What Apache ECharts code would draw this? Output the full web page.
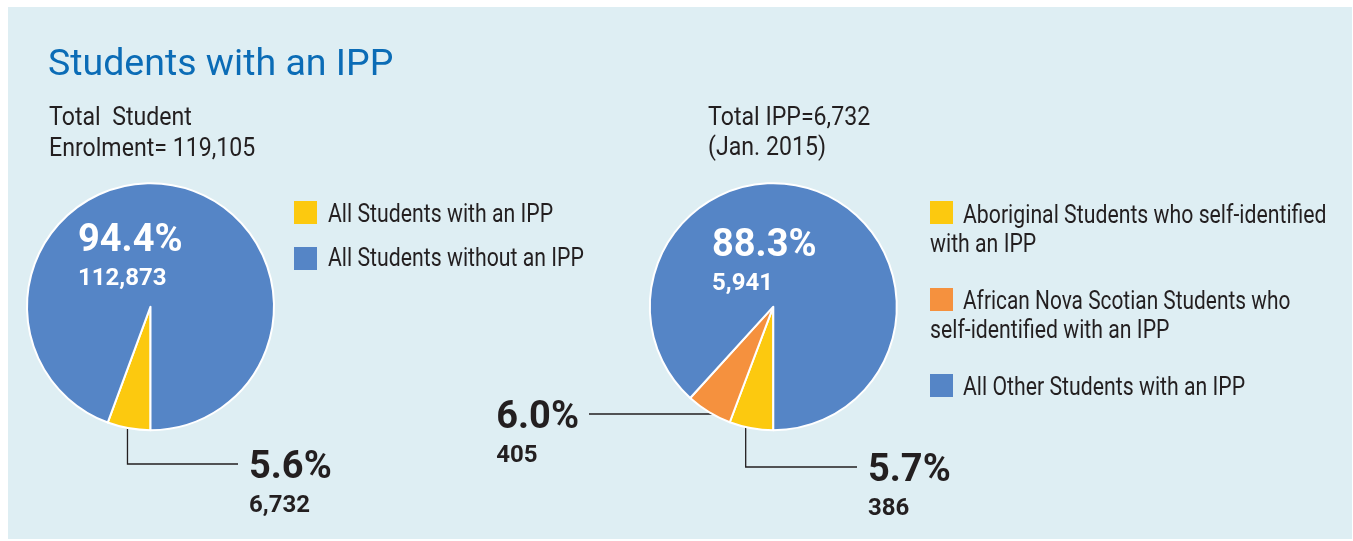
<!DOCTYPE html>
<html>
<head>
<meta charset="utf-8">
<script src="https://cdn.jsdelivr.net/npm/echarts@6/dist/echarts.min.js"></script>
<style>
  html, body { margin: 0; padding: 0; background: #fff; }
  #chart { width: 1353px; height: 541px; }
</style>
</head>
<body>
<div id="chart"></div>
<script>
// data
var leftNames = ['All Students with an IPP', 'All Students without an IPP'];
var leftValues = [6732, 112873];
var rightNames = [
    'Aboriginal Students who self-identified with an IPP',
    'African Nova Scotian Students who self-identified with an IPP',
    'All Other Students with an IPP'
];
var rightValues = [386, 405, 5941];
var totalEnrolment = 119105;   // as printed on the source
var ippDate = 'Jan. 2015';

// styles
var yellow = '#fcc90f', orange = '#f5913e', blue = '#5585c6';
var leftColors = [yellow, blue];
var rightColors = [yellow, orange, blue];
var ink = '#231f20';
var font = 'Roboto';
var squeeze = 0.85; // fake a condensed face

var chart = echarts.init(document.getElementById('chart'));

// label placement per pie (layout only, not data)
// da = small angle nudge (deg) for where the leader starts inside the slice
var leftPie = {
    center: [150.5, 306.7], r: 123.5,
    inner: { dx: -72.5, dy: -85 },
    leaders: { 0: { f: 0.88, da: 2.1, elbowY: 464, endX: 238, side: 'right' } }
};
var rightPie = {
    center: [773.3, 306.7], r: 123.5,
    inner: { dx: -61.3, dy: -80 },
    leaders: {
        0: { f: 0.91, da: 3.9, elbowY: 467, endX: 857, side: 'right' },
        1: { f: 0.76, da: 3.9, elbowY: 414, endX: 589, side: 'left' }
    }
};

function midAngle(values, i) {
    var total = values.reduce(function (a, b) { return a + b; }, 0);
    var before = 0;
    for (var k = 0; k < i; k++) before += values[k];
    return (before + values[i] / 2) / total * Math.PI * 2;
}

function makeLayout(cfg, values) {
    return function (params) {
        var i = params.dataIndex;
        var ld = cfg.leaders[i];
        if (!ld) {
            return {
                x: cfg.center[0] + cfg.inner.dx,
                y: cfg.center[1] + cfg.inner.dy,
                align: 'left', verticalAlign: 'top'
            };
        }
        var a = midAngle(values, i) + ld.da * Math.PI / 180;
        var sx = cfg.center[0] - ld.f * cfg.r * Math.sin(a);
        var sy = cfg.center[1] + ld.f * cfg.r * Math.cos(a);
        var lx = ld.side === 'right' ? ld.endX + 11 : ld.endX - 10 - params.labelRect.width;
        return {
            x: lx,
            y: ld.elbowY - 15.5,
            align: 'left', verticalAlign: 'top',
            labelLinePoints: [[sx, sy], [sx, ld.elbowY], [ld.endX, ld.elbowY]]
        };
    };
}

function pieSeries(names, values, colors, cfg) {
    var maxV = Math.max.apply(null, values);
    return {
        type: 'pie',
        center: cfg.center,
        radius: cfg.r,
        startAngle: -90,
        clockwise: true,
        percentPrecision: 1,
        avoidLabelOverlap: false,
        silent: true,
        animation: false,
        itemStyle: { borderColor: '#fff', borderWidth: 2 },
        label: {
            show: true,
            position: 'outside',
            alignTo: 'none',
            fontFamily: font,
            formatter: function (p) {
                var w = p.value === maxV ? 'w' : '';
                return '{p' + w + '|' + p.percent.toFixed(1) + '%}\n{v' + w + '|' + echarts.format.addCommas(p.value) + '}';
            },
            rich: {
                p: { fontSize: 38, fontWeight: 'bold', lineHeight: 40, color: ink, fontFamily: font },
                v: { fontSize: 24, fontWeight: 'bold', lineHeight: 34, color: ink, fontFamily: font },
                pw: { fontSize: 38, fontWeight: 'bold', lineHeight: 40, color: '#fff', fontFamily: font },
                vw: { fontSize: 24, fontWeight: 'bold', lineHeight: 34, color: '#fff', fontFamily: font }
            }
        },
        labelLine: {
            show: true,
            lineStyle: { color: ink, width: 1.3 }
        },
        labelLayout: makeLayout(cfg, values),
        data: values.map(function (v, i) {
            return {
                name: names[i],
                value: v,
                itemStyle: { color: colors[i] },
                labelLine: { show: !!cfg.leaders[i] }
            };
        })
    };
}

// text helpers for the graphic layer
function txt(s, x, midY, size, sx) {
    return {
        type: 'text', x: x, y: midY, scaleX: sx || squeeze, silent: true,
        style: {
            text: s, fill: ink,
            font: size + 'px ' + font,
            textAlign: 'left', textVerticalAlign: 'middle',
            align: 'left', verticalAlign: 'middle'
        }
    };
}
function square(x, y, color) {
    return { type: 'rect', silent: true, shape: { x: x, y: y, width: 23, height: 23 }, style: { fill: color } };
}

var ippTotal = rightValues.reduce(function (a, b) { return a + b; }, 0);

var graphics = [
    { type: 'rect', silent: true, z: -10, shape: { x: 8, y: 7, width: 1344, height: 532 }, style: { fill: '#deeef3' } },
    // headers
    txt('Total  Student', 49, 118.5, 26, 0.89),
    txt('Enrolment= ' + echarts.format.addCommas(totalEnrolment), 49, 149.5, 26, 0.89),
    txt('Total IPP=' + echarts.format.addCommas(ippTotal), 708, 118.5, 26, 0.89),
    txt('(' + ippDate + ')', 708, 148.5, 26, 0.89),
    // left legend
    square(294, 201, leftColors[0]), txt(leftNames[0], 328, 215.5, 25),
    square(294, 247, leftColors[1]), txt(leftNames[1], 328, 259.5, 25),
    // right legend
    square(930, 201, rightColors[0]),
    txt('Aboriginal Students who self-identified', 963, 216.5, 25, 0.85),
    txt('with an IPP', 930, 245.5, 25),
    square(930, 288, rightColors[1]),
    txt('African Nova Scotian Students who', 963, 302.5, 25, 0.835),
    txt('self-identified with an IPP', 930, 331.5, 25),
    square(930, 374, rightColors[2]),
    txt(rightNames[2], 963, 388.5, 25)
];

var option = {
    backgroundColor: '#fff',
    title: {
        text: 'Students with an IPP',
        left: 48,
        top: 47,
        padding: 0,
        textStyle: { color: '#0b6cb6', fontSize: 37.5, fontWeight: 'normal', fontFamily: font }
    },
    graphic: { elements: graphics },
    series: [
        pieSeries(leftNames, leftValues, leftColors, leftPie),
        pieSeries(rightNames, rightValues, rightColors, rightPie)
    ]
};

chart.setOption(option);
</script>
</body>
</html>
